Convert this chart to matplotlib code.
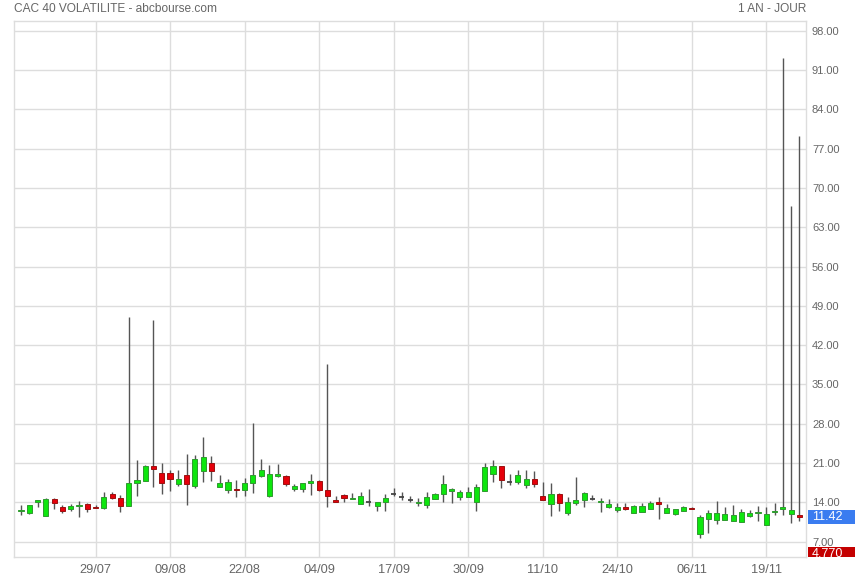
import matplotlib
matplotlib.use("Agg")
import matplotlib.pyplot as plt
import matplotlib.transforms as mtransforms
from matplotlib.patches import Rectangle
import numpy as np

# ---- data ----
opens = [12.43, 12.07, 14.1, 11.53, 14.63, 13.26, 12.78, 13.38, 13.79, 13.26,
         12.96, 15.58, 14.81, 13.38, 17.43, 17.84, 20.4, 19.27, 19.27, 17.25,
         18.8, 16.89, 19.6, 21.06, 16.71, 16.24, 16.41, 16.18, 17.43, 18.68,
         15.1, 18.74, 18.74, 16.35, 16.35, 17.49, 17.84, 16.24, 14.45, 15.4,
         14.57, 13.73, 14.1, 13.38, 14.09, 15.58, 15.04, 14.51, 13.91, 13.56,
         14.63, 15.52, 16.06, 14.93, 14.93, 14.03, 16.0, 19.1, 20.4, 17.66,
         17.66, 17.13, 18.2, 15.16, 13.73, 15.52, 12.13, 13.91, 14.45, 14.63,
         14.09, 13.26, 12.66, 13.26, 12.13, 12.25, 12.84, 14.03, 12.13, 11.95,
         12.42, 13.02, 8.37, 11.0, 10.88, 10.88, 10.64, 10.52, 11.59, 12.13,
         9.92, 12.3, 12.78, 11.95, 11.83]
highs = [13.6, 13.56, 14.45, 14.81, 14.7, 13.5, 13.73, 14.33, 13.85, 13.56,
         15.94, 15.82, 15.4, 47.0, 21.48, 20.64, 46.47, 21.06, 19.69, 19.69,
         22.67, 22.37, 25.63, 22.19, 18.8, 18.2, 17.9, 18.38, 28.12, 21.66,
         20.58, 20.76, 18.9, 17.31, 17.49, 18.97, 17.9, 38.63, 15.22, 15.45,
         15.64, 15.94, 16.3, 14.09, 15.52, 16.53, 15.82, 15.1, 14.81, 15.94,
         15.7, 18.86, 16.59, 16.24, 16.71, 17.19, 21.06, 21.48, 20.45, 18.97,
         19.69, 19.69, 19.51, 17.72, 17.43, 15.64, 15.04, 18.5, 15.94, 15.4,
         14.81, 14.63, 13.97, 13.97, 13.56, 13.97, 14.33, 14.93, 13.73, 12.84,
         13.44, 13.26, 11.83, 12.66, 14.33, 13.26, 13.62, 12.84, 12.66, 13.44,
         13.26, 13.97, 93.08, 66.78, 79.24]
lows = [11.7, 11.95, 13.14, 11.53, 12.84, 12.07, 12.54, 11.35, 12.25, 12.96,
        12.84, 14.63, 12.25, 13.38, 15.22, 17.84, 16.71, 15.52, 16.0, 16.89,
        13.56, 16.59, 17.6, 17.78, 16.71, 15.7, 14.93, 15.1, 15.69, 18.5,
        14.93, 18.5, 16.89, 16.0, 15.82, 15.28, 16.0, 13.14, 14.03, 14.15,
        14.57, 13.73, 13.32, 12.42, 12.42, 15.22, 14.45, 14.15, 13.32, 12.96,
        14.63, 14.03, 13.91, 14.45, 14.93, 12.54, 16.0, 17.6, 16.53, 17.13,
        17.19, 16.53, 16.71, 14.45, 11.53, 12.42, 11.71, 13.56, 13.14, 14.51,
        12.25, 12.96, 12.25, 12.66, 12.13, 12.25, 12.84, 11.0, 12.13, 11.77,
        12.42, 12.78, 7.6, 8.49, 10.16, 10.88, 10.64, 10.52, 11.47, 10.76,
        9.92, 11.71, 11.83, 10.28, 10.64]
closes = [12.66, 13.56, 14.45, 14.63, 13.91, 12.42, 13.38, 13.62, 12.84, 13.02,
          14.98, 14.81, 13.38, 17.49, 17.9, 20.46, 19.93, 17.43, 18.2, 18.2,
          17.31, 21.77, 22.0, 19.57, 17.49, 17.66, 16.18, 17.49, 18.8, 19.81,
          19.1, 19.1, 17.31, 16.95, 17.49, 17.84, 16.12, 15.16, 14.15, 14.81,
          14.81, 15.16, 14.1, 14.09, 14.81, 15.58, 15.04, 14.51, 14.15, 14.93,
          15.52, 17.19, 16.3, 15.88, 15.88, 16.77, 20.34, 20.4, 18.02, 17.66,
          18.92, 18.2, 17.31, 14.45, 15.52, 13.91, 14.09, 14.45, 15.76, 14.63,
          14.33, 13.73, 13.26, 12.84, 13.44, 13.44, 13.91, 13.73, 13.02, 12.84,
          13.26, 12.78, 11.47, 12.19, 12.19, 11.95, 11.77, 12.36, 12.19, 12.36,
          11.95, 12.54, 13.26, 12.72, 11.42]

tick_index = [9, 18, 27, 36, 45, 54, 63, 72, 81, 90]
tick_labels = ["29/07", "09/08", "22/08", "04/09", "17/09",
               "30/09", "11/10", "24/10", "06/11", "19/11"]
y_ticks = [7, 14, 21, 28, 35, 42, 49, 56, 63, 70, 77, 84, 91, 98]
marker_value = 4.770
title_left = "CAC 40 VOLATILITE - abcbourse.com"
title_right = "1 AN - JOUR"

# ---- styling ----
W, H = 855, 580
GREEN, GREEN_EDGE = "#0ee60e", "#2f9a2f"
RED, RED_EDGE = "#e5000a", "#9c1010"
WICK = "#555555"
GRID = "#dddddd"
TXT = "#666666"
FONT = "Liberation Sans"

fig = plt.figure(figsize=(W / 100, H / 100), dpi=100)
left, right, top, bottom = 14.3, 806, 21.3, 556.7
ax = fig.add_axes([left / W, 1 - bottom / H, (right - left) / W, (bottom - top) / H])

o = np.array(opens); h = np.array(highs); l = np.array(lows); c = np.array(closes)
x = np.arange(len(o))

ax.set_xlim(-0.81, 94.8)
ax.set_ylim(4.33, 99.67)

# grid
for v in y_ticks:
    ax.axhline(v, color=GRID, lw=1, zorder=0)
for t in tick_index:
    ax.axvline(t, color=GRID, lw=1, zorder=0)
for s in ax.spines.values():
    s.set_color(GRID)
    s.set_linewidth(1)

# wicks
ax.vlines(x, l, h, color=WICK, lw=1.0, zorder=2)

# bodies
bw = 0.62
up = c > o
dn = c < o
eq = c == o
ax.bar(x[up], (c - o)[up], bottom=o[up], width=bw, color=GREEN,
       edgecolor=GREEN_EDGE, linewidth=0.7, zorder=3)
ax.bar(x[dn], (o - c)[dn], bottom=c[dn], width=bw, color=RED,
       edgecolor=RED_EDGE, linewidth=0.7, zorder=3)
ax.hlines(c[eq], x[eq] - bw / 2, x[eq] + bw / 2, color="#444444", lw=1.3, zorder=3)

# ticks
ax.set_xticks(tick_index)
ax.set_xticklabels(tick_labels, fontsize=9.2, color=TXT, family=FONT)
ax.set_yticks(y_ticks)
ax.set_yticklabels([f"{v:.2f}" for v in y_ticks], fontsize=8, color=TXT, family=FONT)
ax.yaxis.tick_right()
ax.tick_params(axis="both", length=0)
ax.tick_params(axis="x", pad=5.5)
ax.tick_params(axis="y", pad=4.3)

# right value labels
trans = mtransforms.blended_transform_factory(fig.transFigure, ax.transData)
box_h = 14.3 / ((bottom - top) / (99.67 - 4.33))
clip = Rectangle((right / W, 1 - bottom / H), 1 - right / W, (bottom - top) / H,
                 transform=fig.transFigure, visible=False)
fig.add_artist(clip)

def value_box(val, label, color):
    r = Rectangle((807.5 / W, val - box_h / 2), (W - 807.5) / W, box_h,
                  transform=trans, facecolor=color, edgecolor="none", zorder=5)
    fig.add_artist(r)
    r.set_clip_path(clip)
    t = fig.text(812 / W, val, label, transform=trans, color="white",
                 fontsize=9, family=FONT, va="center", ha="left", zorder=6)
    t.set_clip_path(clip)

value_box(closes[-1], f"{closes[-1]:.2f}", "#3a7cf0")
value_box(marker_value, f"{marker_value:.3f}", "#c40000")

# titles
fig.text(14 / W, 1 - 9 / H, title_left, fontsize=8.6, color=TXT, family=FONT,
         ha="left", va="center")
fig.text(806 / W, 1 - 9 / H, title_right, fontsize=8.6, color=TXT, family=FONT,
         ha="right", va="center")

fig.savefig("out.png", dpi=100)
